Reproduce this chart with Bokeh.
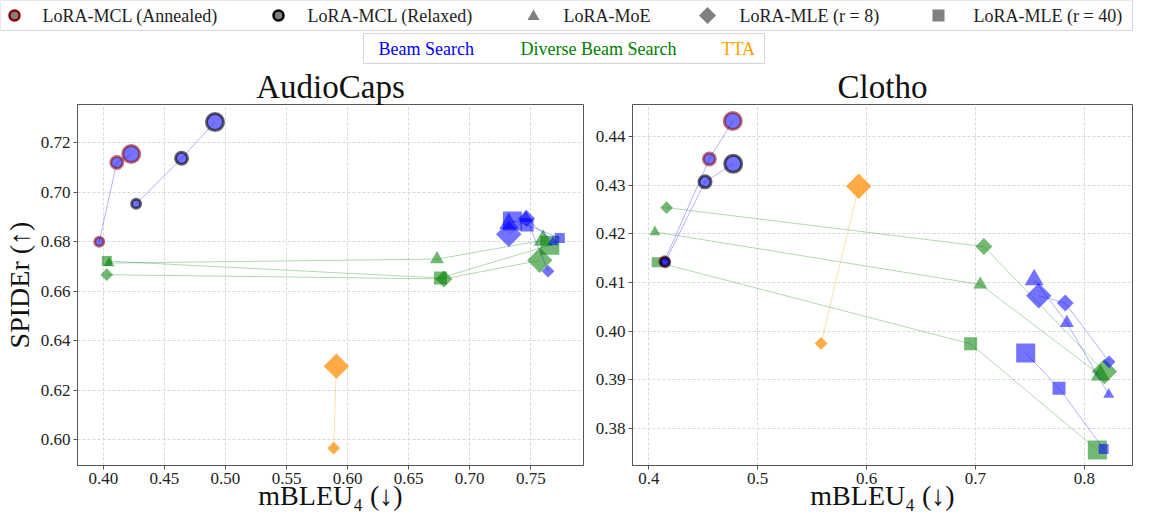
import math
from bokeh.plotting import figure
from bokeh.layouts import column, row
from bokeh.models import Range1d, FixedTicker, NumeralTickFormatter, ColumnDataSource
from bokeh.embed import file_html
from bokeh.resources import INLINE
from bokeh.core.properties import value

FONT = "Liberation Serif"
GLYPH_FONT = "'Liberation Serif', serif"

# ---------------- data ----------------
# marker size level of each point: 0 small, 1 medium, 2 large
LEVELS = [0, 1, 2]
TTA_LEVELS = [0, 2]

# AudioCaps  (x = mBLEU4, y = SPIDEr)
AC_MCL_ANN_X = [0.3966, 0.4110, 0.4228]
AC_MCL_ANN_Y = [0.6800, 0.7120, 0.7154]
AC_MCL_REL_X = [0.4268, 0.4640, 0.4914]
AC_MCL_REL_Y = [0.6953, 0.7137, 0.7283]
AC_BS_MOE_X = [0.7683, 0.7459, 0.7320]
AC_BS_MOE_Y = [0.6799, 0.6896, 0.6874]
AC_BS_MLE8_X = [0.7642, 0.7465, 0.7320]
AC_BS_MLE8_Y = [0.6681, 0.6894, 0.6830]
AC_BS_MLE40_X = [0.7738, 0.7470, 0.7350]
AC_BS_MLE40_Y = [0.6815, 0.6868, 0.6884]
AC_DBS_MOE_X = [0.4046, 0.6732, 0.7601]
AC_DBS_MOE_Y = [0.6714, 0.6730, 0.6806]
AC_DBS_MLE8_X = [0.4028, 0.6789, 0.7574]
AC_DBS_MLE8_Y = [0.6667, 0.6650, 0.6725]
AC_DBS_MLE40_X = [0.4028, 0.6760, 0.7656]
AC_DBS_MLE40_Y = [0.6722, 0.6654, 0.6786]
AC_TTA_MLE8_X = [0.5886, 0.5908]
AC_TTA_MLE8_Y = [0.5967, 0.6298]

# Clotho
CL_MCL_ANN_X = [0.4144, 0.4556, 0.4771]
CL_MCL_ANN_Y = [0.4144, 0.4354, 0.4432]
CL_MCL_REL_X = [0.4150, 0.4516, 0.4775]
CL_MCL_REL_Y = [0.4142, 0.4307, 0.4344]
CL_BS_MOE_X = [0.8225, 0.7840, 0.7540]
CL_BS_MOE_Y = [0.3870, 0.4017, 0.4106]
CL_BS_MLE8_X = [0.8228, 0.7825, 0.7582]
CL_BS_MLE8_Y = [0.3937, 0.4058, 0.4073]
CL_BS_MLE40_X = [0.8178, 0.7768, 0.7462]
CL_BS_MLE40_Y = [0.3758, 0.3883, 0.3955]
CL_DBS_MOE_X = [0.4056, 0.7045, 0.8148]
CL_DBS_MOE_Y = [0.4204, 0.4096, 0.3910]
CL_DBS_MLE8_X = [0.4163, 0.7078, 0.8185]
CL_DBS_MLE8_Y = [0.4254, 0.4174, 0.3917]
CL_DBS_MLE40_X = [0.4072, 0.6956, 0.8120]
CL_DBS_MLE40_Y = [0.4142, 0.3974, 0.3756]
CL_TTA_MLE8_X = [0.5582, 0.5928]
CL_TTA_MLE8_Y = [0.3975, 0.4298]

AC_X_TICKS = [0.40, 0.45, 0.50, 0.55, 0.60, 0.65, 0.70, 0.75]
AC_Y_TICKS = [0.60, 0.62, 0.64, 0.66, 0.68, 0.70, 0.72]
CL_X_TICKS = [0.4, 0.5, 0.6, 0.7, 0.8]
CL_Y_TICKS = [0.38, 0.39, 0.40, 0.41, 0.42, 0.43, 0.44]

METHOD_LABELS = ["LoRA-MCL (Annealed)", "LoRA-MCL (Relaxed)", "LoRA-MoE",
                 "LoRA-MLE (r = 8)", "LoRA-MLE (r = 40)"]
DECODING_LABELS = ["Beam Search", "Diverse Beam Search", "TTA"]

# ---------------- styles ----------------
C_BS, C_DBS, C_TTA = "blue", "green", "darkorange"
SIZE = {"circle": [9, 12, 17], "triangle": [11, 14, 19],
        "diamond": [9, 12, 18], "square": [10, 13, 19]}
AC_XR, AC_YR = (0.3788, 0.7932), (0.5897, 0.7354)
CL_XR, CL_YR = (0.3850, 0.8443), (0.3724, 0.4466)

TOTAL_W = 1133
HDR_H = 66
PLOT_H = 513 - HDR_H
LEFT_W = 589


def series(p, xs, ys, levels, shape, color, alpha=0.55, edge=None, edge_alpha=0.6):
    p.line(xs, ys, line_color=color, line_alpha=0.3, line_width=1)
    marker = "square" if shape == "diamond" else shape
    angle = math.pi / 4 if shape == "diamond" else 0.0
    src = ColumnDataSource(dict(x=xs, y=ys, s=[SIZE[shape][l] for l in levels]))
    if edge:
        p.scatter("x", "y", source=src, marker=marker, size="s", angle=angle,
                  fill_color=color, fill_alpha=alpha, line_color=edge,
                  line_alpha=edge_alpha, line_width=3)
    else:
        p.scatter("x", "y", source=src, marker=marker, size="s", angle=angle,
                  fill_color=color, fill_alpha=alpha, line_color=None)


def panel(title, xr, yr, xticks, yticks, xfmt, yfmt, width, mleft, mright, ylabel):
    p = figure(width=width, height=PLOT_H, x_range=Range1d(*xr), y_range=Range1d(*yr),
               output_backend="svg", toolbar_location=None,
               min_border_left=mleft, min_border_right=mright,
               min_border_top=0, min_border_bottom=0,
               background_fill_color="white", border_fill_color="white")
    p.title.text = title
    p.title.align = "center"
    p.title.text_font = FONT
    p.title.text_font_size = "33px"
    p.title.text_font_style = "normal"
    p.title.text_color = "#111111"
    p.title.standoff = 0
    p.xaxis.ticker = FixedTicker(ticks=xticks)
    p.yaxis.ticker = FixedTicker(ticks=yticks)
    p.xaxis.formatter = NumeralTickFormatter(format=xfmt)
    p.yaxis.formatter = NumeralTickFormatter(format=yfmt)
    p.xaxis.axis_label = "mBLEU\u2084 (\u2193)"
    if ylabel:
        p.yaxis.axis_label = ylabel
    for ax in (p.xaxis, p.yaxis):
        ax.major_label_text_font = FONT
        ax.major_label_text_font_size = "17px"
        ax.major_label_text_color = "#222222"
        ax.axis_label_text_font = FONT
        ax.axis_label_text_font_size = "28px"
        ax.axis_label_text_font_style = "normal"
        ax.axis_label_text_color = "#111111"
        ax.minor_tick_line_color = None
        ax.major_tick_in = 0
        ax.major_tick_out = 4
        ax.major_tick_line_color = "#555555"
        ax.axis_line_color = "#555555"
        ax.major_label_standoff = 3
    p.xaxis.axis_label_standoff = -7
    p.yaxis.axis_label_standoff = 3
    p.grid.grid_line_color = "#d8d8d8"
    p.grid.grid_line_dash = "3 2"
    p.outline_line_color = "#555555"
    return p


# ---------------- AudioCaps ----------------
left = panel("AudioCaps", AC_XR, AC_YR, AC_X_TICKS, AC_Y_TICKS, "0.00", "0.00",
             LEFT_W, 74, 6, "SPIDEr (\u2191)")
series(left, AC_DBS_MLE40_X, AC_DBS_MLE40_Y, LEVELS, "square", C_DBS)
series(left, AC_DBS_MOE_X, AC_DBS_MOE_Y, LEVELS, "triangle", C_DBS)
series(left, AC_DBS_MLE8_X, AC_DBS_MLE8_Y, LEVELS, "diamond", C_DBS)
series(left, AC_BS_MLE40_X, AC_BS_MLE40_Y, LEVELS, "square", C_BS)
series(left, AC_BS_MOE_X, AC_BS_MOE_Y, LEVELS, "triangle", C_BS)
series(left, AC_BS_MLE8_X, AC_BS_MLE8_Y, LEVELS, "diamond", C_BS)
series(left, AC_TTA_MLE8_X, AC_TTA_MLE8_Y, TTA_LEVELS, "diamond", C_TTA, alpha=0.72)
series(left, AC_MCL_ANN_X, AC_MCL_ANN_Y, LEVELS, "circle", C_BS, edge="darkred", edge_alpha=0.55)
series(left, AC_MCL_REL_X, AC_MCL_REL_Y, LEVELS, "circle", C_BS, edge="black", edge_alpha=0.6)

# ---------------- Clotho ----------------
right = panel("Clotho", CL_XR, CL_YR, CL_X_TICKS, CL_Y_TICKS, "0.0", "0.00",
              TOTAL_W - LEFT_W, 43, 1, None)
series(right, CL_DBS_MLE40_X, CL_DBS_MLE40_Y, LEVELS, "square", C_DBS)
series(right, CL_DBS_MOE_X, CL_DBS_MOE_Y, LEVELS, "triangle", C_DBS)
series(right, CL_DBS_MLE8_X, CL_DBS_MLE8_Y, LEVELS, "diamond", C_DBS)
series(right, CL_BS_MLE40_X, CL_BS_MLE40_Y, LEVELS, "square", C_BS)
series(right, CL_BS_MOE_X, CL_BS_MOE_Y, LEVELS, "triangle", C_BS)
series(right, CL_BS_MLE8_X, CL_BS_MLE8_Y, LEVELS, "diamond", C_BS)
series(right, CL_TTA_MLE8_X, CL_TTA_MLE8_Y, TTA_LEVELS, "diamond", C_TTA, alpha=0.72)
series(right, CL_MCL_ANN_X, CL_MCL_ANN_Y, LEVELS, "circle", C_BS, edge="darkred", edge_alpha=0.55)
series(right, CL_MCL_REL_X, CL_MCL_REL_Y, LEVELS, "circle", C_BS, edge="black", edge_alpha=0.6)

# ---------------- legends (header) ----------------
hdr = figure(width=TOTAL_W, height=HDR_H, x_range=Range1d(0, TOTAL_W), y_range=Range1d(HDR_H, 0),
             x_axis_type=None, y_axis_type=None, min_border=0, outline_line_color=None,
             toolbar_location=None, output_backend="svg")
hdr.grid.visible = False
hdr.quad(left=[0, 363], right=[TOTAL_W - 1, 764], top=[0, 33], bottom=[30, 63],
         fill_color="white", line_color="#d4d4d4", line_width=1)
row1_y = 15
row2_y = 48
mk_x = [14, 278, 533, 707, 938]
tx_x = [42, 307, 563, 739, 973]
hdr.scatter(x=mk_x[0:2], y=[row1_y] * 2, marker="circle", size=10, fill_color="gray",
            line_color=["darkred", "black"], line_width=2.5)
hdr.scatter(x=[mk_x[2]], y=[row1_y + 1], marker="triangle", size=12, fill_color="gray", line_color=None)
hdr.scatter(x=[mk_x[3]], y=[row1_y], marker="square", angle=math.pi / 4, size=12,
            fill_color="gray", line_color=None)
hdr.scatter(x=[mk_x[4]], y=[row1_y], marker="square", size=12, fill_color="gray", line_color=None)
hdr.text(x=tx_x, y=[row1_y] * 5, text=METHOD_LABELS, text_font=value(GLYPH_FONT),
         text_font_size="18px", text_baseline="middle", text_align="left", text_color="#222222")
hdr.text(x=[378, 520, 721], y=[row2_y] * 3, text=DECODING_LABELS, text_font=value(GLYPH_FONT),
         text_font_size="18px", text_baseline="middle", text_align="left",
         text_color=[C_BS, C_DBS, "orange"])

layout = column(hdr, row(left, right))
open("out.html", "w").write(file_html(layout, INLINE))
